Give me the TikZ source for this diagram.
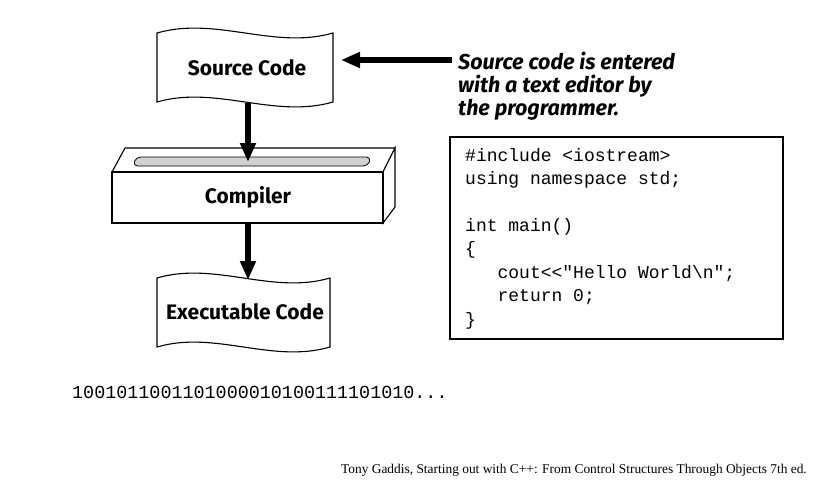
\documentclass[tikz,border=0pt]{standalone}
\usepackage{fontspec}
\setmainfont{Liberation Serif}
\setmonofont{Liberation Mono}
\newfontfamily\fira{Fira Sans}
\usetikzlibrary{arrows.meta}
\tikzset{
  wavebox/.style={draw=black, line width=1.1pt, fill=white},
  lbl/.style={font=\fira\bfseries\fontsize{21}{24}\selectfont, inner sep=0pt},
  bigarrow/.style={line width=5.5pt, -{Triangle[length=19pt,width=15pt]}},
  codebox/.style={draw=black, line width=2.2pt, minimum width=333pt, minimum height=202pt, inner sep=0pt},
}
\begin{document}
\begin{tikzpicture}[x=1pt,y=-1pt]
\useasboundingbox (0,0) rectangle (832,490);
% Source Code document shape
\path[wavebox] (157,33) .. controls (216,16) and (274,50) .. (333,33)
  -- (333,102) .. controls (274,119) and (216,85) .. (157,102) -- cycle;
\node[lbl] (src) at (247,68) {Source Code};
\coordinate (srcbot) at (248,103);
% Compiler box
\path[wavebox] (112,172) -- (125,148) -- (395,148) -- (383,172) -- cycle;
\path[wavebox] (383,172) -- (395,148) -- (395,207) -- (383,223) -- cycle;
\path[wavebox] (112,172) rectangle (383,223);
\path[draw=black, line width=0.8pt, fill=black!18, rounded corners=4.5pt]
  (136,157) -- (371,157) -- (368,166) -- (133,166) -- cycle;
\node[lbl] (comp) at (248,197) {Compiler};
\coordinate (slot) at (248,162);
\coordinate (compbot) at (248,223);
% Executable Code document shape
\path[wavebox] (157,278) .. controls (215,261) and (272,295) .. (330,278)
  -- (330,347) .. controls (272,364) and (215,330) .. (157,347) -- cycle;
\node[lbl] (exe) at (245,312) {Executable Code};
\coordinate (exetop) at (248,280);
% arrows
\draw[bigarrow] (srcbot) -- (slot);
\draw[bigarrow] (compbot) -- (exetop);
% annotation
\node[font=\fira\bfseries\itshape\fontsize{21.5}{23}\selectfont, align=left, anchor=north west, inner sep=0pt] (note) at (458,52)
  {Source code is entered\\with a text editor by\\the programmer.};
\coordinate (srcright) at (341,60);
\draw[bigarrow] (452,60) -- (srcright);
% code box
\node[codebox, anchor=north west] (code) at (449,136) {};
\node[font=\ttfamily\fontsize{18}{23.4}\selectfont, align=left, anchor=north west, inner sep=0pt] (codetext) at (465,148)
  {\#include <iostream>\\
   using namespace std;\\
   \mbox{}\\
   int main()\\
   \{\\
   \phantom{xxx}cout<<"Hello World\textbackslash n";\\
   \phantom{xxx}return 0;\\
   \}};
% binary
\node[font=\ttfamily\fontsize{18.4}{20}\selectfont, anchor=west, inner sep=0pt] (bin) at (72,392)
  {1001011001101000010100111101010...};
% caption
\node[font=\fontsize{13.4}{15}\selectfont, anchor=east, inner sep=0pt] (cap) at (807,470)
  {Tony Gaddis, Starting out with C++: From Control Structures Through Objects 7th ed.};
\end{tikzpicture}
\end{document}
